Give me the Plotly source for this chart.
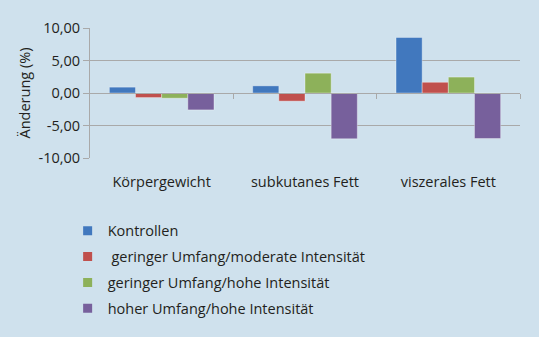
import plotly.graph_objects as go

categories = ["Körpergewicht", "subkutanes Fett", "viszerales Fett"]
series_names = ["Kontrollen", " geringer Umfang/moderate Intensität",
                "geringer Umfang/hohe Intensität", "hoher Umfang/hohe Intensität"]
kontrollen = [0.9, 1.1, 8.55]
gering_moderat = [-0.7, -1.25, 1.65]
gering_hoch = [-0.8, 3.05, 2.45]
hoch_hoch = [-2.6, -7.05, -7.0]
y_ticks = [-10, -5, 0, 5, 10]
y_ticklabels = ["-10,00", "-5,00", "0,00", "5,00", "10,00"]

colors = ["#4178be", "#c0504d", "#8db15a", "#77609c"]
bg = "#cfe1ed"
grid = "#a9a9a9"
font = "Open Sans"
fs = 14.5

fig = go.Figure()
for i, (name, vals) in enumerate(zip(series_names,
                                     [kontrollen, gering_moderat, gering_hoch, hoch_hoch])):
    fig.add_trace(go.Bar(x=categories, y=vals, name=name, showlegend=False,
                         marker=dict(color=colors[i],
                                     line=dict(color="rgba(255,255,255,0.35)", width=1)),
                         legendgroup=str(i)))
    # legend entry with a small square symbol
    fig.add_trace(go.Scatter(x=[None], y=[None], name=name, mode="markers",
                             marker=dict(symbol="square", size=9, color=colors[i]),
                             legendgroup=str(i), showlegend=True))

# invisible trace to anchor secondary x axis (category boundary ticks on zero line)
fig.add_trace(go.Scatter(x=[0], y=[0], xaxis="x2", mode="markers",
                         marker=dict(opacity=0), showlegend=False, hoverinfo="skip"))

fig.update_layout(
    width=539, height=337,
    paper_bgcolor=bg, plot_bgcolor=bg,
    margin=dict(l=90, r=19, t=28, b=174),
    barmode="group", bargap=0.27, bargroupgap=0,
    font=dict(family=font, size=fs, color="#231f20"),
    showlegend=True,
    legend=dict(x=-0.052, xanchor="left", y=-0.437, yanchor="top",
                bgcolor="rgba(0,0,0,0)", tracegroupgap=4,
                font=dict(family=font, size=fs, color="#231f20"),
                itemwidth=30),
    xaxis=dict(showgrid=False, showline=False, ticks="outside", ticklen=11,
               tickcolor="rgba(0,0,0,0)", tickfont=dict(size=fs)),
    xaxis2=dict(overlaying="x", anchor="free", position=0.5, range=[-0.5, 2.5],
                showgrid=False, showline=True, linecolor=grid, linewidth=1,
                ticks="outside", ticklen=5, tickcolor=grid,
                tickvals=[0.5, 1.5, 2.5], showticklabels=False, zeroline=False),
    yaxis=dict(range=[-10, 10], tickvals=y_ticks, ticktext=y_ticklabels,
               showgrid=True, gridcolor=grid, gridwidth=1,
               zeroline=False, showline=True, linecolor=grid, linewidth=1,
               ticks="outside", ticklen=6, tickcolor=grid,
               title=dict(text="Änderung (%)", standoff=4, font=dict(size=fs)),
               tickfont=dict(size=fs)),
)

fig.write_html("out.html", config={"displayModeBar": False},
               post_script="document.body.style.margin='0';document.body.style.overflow='hidden';")
